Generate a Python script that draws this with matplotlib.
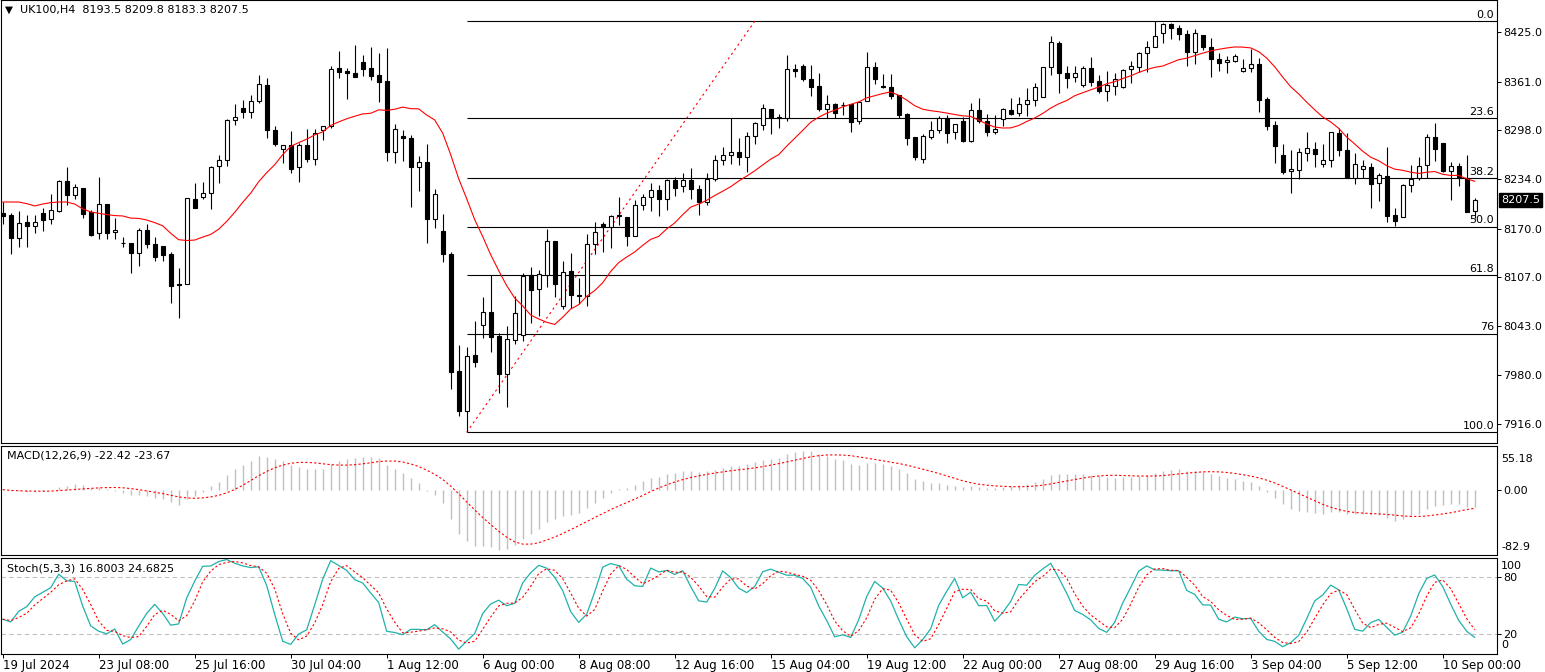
import numpy as np
import pandas as pd
import matplotlib
matplotlib.use('Agg')
import matplotlib.pyplot as plt

# UK100 H4 bars (bar 0 = 19 Jul 2024)
opens = [
    8190.0, 8187.8, 8158.3, 8178.7, 8173.9, 8190.4, 8183.0, 8193.0, 8231.5, 8214.2,
    8222.4, 8191.7, 8164.0, 8201.6, 8165.3, 8151.8, 8151.0, 8138.0, 8168.3, 8150.0,
    8147.1, 8137.1, 8097.5, 8097.7, 8208.5, 8210.7, 8215.9, 8251.8, 8258.8, 8310.7,
    8326.3, 8321.1, 8335.4, 8356.2, 8298.2, 8273.0, 8278.2, 8249.7, 8278.2, 8260.1,
    8298.6, 8303.8, 8378.3, 8374.9, 8371.8, 8386.0, 8378.3, 8369.2, 8361.8, 8270.0,
    8290.0, 8287.3, 8249.7, 8256.2, 8182.1, 8167.0, 8137.1, 7985.2, 7933.7, 8005.5,
    8044.5, 8061.4, 8030.6, 7981.7, 8025.0, 8031.5, 8109.4, 8091.2, 8109.4, 8154.0,
    8069.6, 8115.5, 8084.0, 8082.6, 8149.7, 8175.6, 8172.2, 8186.0, 8184.7, 8160.9,
    8200.3, 8210.7, 8219.8, 8208.1, 8232.8, 8225.0, 8232.8, 8221.1, 8205.1, 8234.1,
    8258.8, 8265.7, 8269.6, 8262.7, 8290.0, 8304.2, 8325.0, 8314.2, 8314.2, 8377.4,
    8380.8, 8364.4, 8354.9, 8325.9, 8331.5, 8330.0, 8331.5, 8309.4, 8335.4, 8379.5,
    8355.0, 8353.6, 8343.6, 8318.9, 8288.6, 8260.9, 8289.5, 8297.7, 8313.3, 8295.1,
    8309.4, 8284.3, 8323.7, 8309.4, 8296.0, 8312.4, 8323.7, 8319.8, 8331.5, 8336.7,
    8340.6, 8379.5, 8410.7, 8371.8, 8367.4, 8356.6, 8378.3, 8361.4, 8349.2, 8355.7,
    8354.4, 8377.0, 8379.5, 8397.7, 8405.5, 8423.7, 8435.4, 8430.2, 8422.4, 8399.9,
    8421.5, 8406.4, 8390.0, 8386.5, 8388.2, 8375.2, 8378.3, 8383.4, 8338.4, 8304.7,
    8265.7, 8244.5, 8245.8, 8267.9, 8273.0, 8253.6, 8259.6, 8294.7, 8271.8, 8236.3,
    8247.9, 8249.7, 8228.9, 8238.4, 8187.8, 8184.7, 8226.3, 8235.4, 8252.7, 8288.6,
    8280.8, 8244.9, 8251.8, 8235.4, 8193.5]
highs = [
    8204.0, 8190.8, 8193.0, 8187.8, 8187.8, 8196.4, 8215.0, 8232.8, 8250.1, 8228.0,
    8222.4, 8194.3, 8237.1, 8201.6, 8184.3, 8159.6, 8151.0, 8170.5, 8176.1, 8158.7,
    8147.1, 8139.3, 8119.0, 8209.4, 8229.3, 8230.6, 8251.8, 8265.3, 8312.4, 8331.5,
    8337.1, 8343.6, 8369.6, 8365.3, 8303.0, 8278.2, 8296.9, 8280.8, 8299.0, 8299.0,
    8303.8, 8381.3, 8400.8, 8378.3, 8408.5, 8395.6, 8406.0, 8398.2, 8404.2, 8306.0,
    8297.7, 8291.7, 8264.8, 8280.0, 8221.5, 8189.0, 8139.3, 8019.0, 8016.4, 8050.1,
    8081.7, 8109.4, 8034.1, 8043.6, 8082.6, 8112.0, 8120.7, 8116.3, 8170.0, 8154.0,
    8128.0, 8138.0, 8105.5, 8162.7, 8178.7, 8179.1, 8187.8, 8211.1, 8184.7, 8207.3,
    8215.0, 8229.3, 8226.7, 8234.1, 8237.1, 8242.3, 8248.4, 8226.7, 8242.3, 8265.3,
    8276.5, 8313.3, 8287.8, 8295.6, 8309.0, 8331.9, 8325.0, 8318.9, 8395.6, 8383.4,
    8383.4, 8382.6, 8372.2, 8343.6, 8333.7, 8334.5, 8331.5, 8334.1, 8399.0, 8386.5,
    8370.9, 8370.9, 8343.6, 8320.7, 8288.6, 8293.0, 8309.9, 8316.3, 8317.6, 8306.4,
    8314.6, 8333.3, 8339.3, 8318.9, 8317.6, 8327.2, 8339.7, 8341.0, 8352.7, 8358.8,
    8379.5, 8420.2, 8413.7, 8381.3, 8381.3, 8381.3, 8392.5, 8369.2, 8374.8, 8372.2,
    8377.0, 8387.8, 8399.0, 8413.7, 8439.3, 8436.7, 8436.7, 8434.5, 8428.0, 8428.9,
    8421.5, 8417.2, 8397.7, 8394.3, 8396.4, 8390.0, 8402.9, 8391.3, 8341.0, 8309.9,
    8280.0, 8272.6, 8274.8, 8295.1, 8282.1, 8279.5, 8295.1, 8301.2, 8294.7, 8268.7,
    8259.2, 8254.9, 8241.9, 8276.5, 8197.3, 8227.6, 8252.7, 8263.5, 8292.5, 8306.8,
    8280.8, 8257.0, 8254.9, 8265.7, 8209.8]
lows = [
    8176.0, 8137.1, 8146.6, 8146.6, 8164.0, 8167.4, 8176.0, 8191.7, 8201.2, 8208.5,
    8184.3, 8160.9, 8156.2, 8156.2, 8156.6, 8146.6, 8112.0, 8122.0, 8144.5, 8128.5,
    8128.5, 8074.0, 8054.4, 8097.7, 8197.3, 8208.5, 8195.1, 8229.8, 8251.8, 8305.1,
    8313.3, 8313.3, 8332.8, 8287.3, 8277.8, 8254.9, 8241.9, 8231.0, 8256.6, 8253.1,
    8284.7, 8300.3, 8366.1, 8338.9, 8367.4, 8368.3, 8363.0, 8335.0, 8257.9, 8254.9,
    8257.9, 8198.6, 8219.4, 8151.0, 8171.3, 8127.2, 7961.8, 7926.7, 7905.5, 7990.0,
    8028.5, 8010.3, 7957.0, 7938.9, 8019.8, 8024.6, 8047.9, 8057.0, 8094.7, 8081.7,
    8065.3, 8066.6, 8072.2, 8070.0, 8136.7, 8139.3, 8144.5, 8174.8, 8147.9, 8160.9,
    8194.3, 8193.4, 8186.9, 8194.3, 8212.4, 8218.1, 8208.5, 8187.8, 8200.8, 8231.9,
    8252.7, 8254.0, 8252.7, 8244.0, 8280.4, 8298.6, 8293.4, 8301.2, 8310.3, 8367.4,
    8362.2, 8342.3, 8323.3, 8314.2, 8314.2, 8317.6, 8296.0, 8306.4, 8335.4, 8358.3,
    8353.1, 8338.4, 8313.3, 8278.7, 8259.2, 8255.3, 8286.0, 8294.7, 8281.7, 8286.9,
    8283.0, 8283.0, 8307.7, 8290.8, 8293.0, 8303.4, 8318.1, 8316.8, 8316.8, 8329.8,
    8340.6, 8369.6, 8346.6, 8353.1, 8361.0, 8354.4, 8355.3, 8346.6, 8336.3, 8344.0,
    8353.1, 8358.8, 8374.0, 8374.0, 8405.5, 8411.6, 8416.8, 8415.0, 8381.7, 8383.9,
    8402.0, 8367.4, 8375.2, 8372.6, 8386.9, 8373.1, 8374.0, 8322.0, 8298.6, 8255.7,
    8241.0, 8215.9, 8234.1, 8257.9, 8250.5, 8250.5, 8250.5, 8264.8, 8235.4, 8228.0,
    8235.4, 8197.3, 8206.4, 8179.1, 8173.9, 8184.7, 8218.1, 8233.2, 8235.4, 8258.3,
    8243.6, 8207.3, 8225.4, 8192.1, 8183.3]
closes = [
    8186.0, 8158.3, 8177.0, 8173.9, 8178.7, 8181.7, 8193.8, 8231.5, 8214.2, 8223.7,
    8189.5, 8161.8, 8201.6, 8164.0, 8168.3, 8151.5, 8138.0, 8168.3, 8149.7, 8133.7,
    8136.3, 8096.0, 8096.8, 8209.4, 8197.3, 8216.3, 8249.7, 8258.8, 8310.7, 8314.6,
    8321.1, 8335.4, 8357.5, 8298.2, 8280.4, 8278.2, 8247.9, 8278.2, 8260.1, 8293.8,
    8303.8, 8377.0, 8374.0, 8371.8, 8367.4, 8377.8, 8368.7, 8361.0, 8270.0, 8299.0,
    8287.3, 8249.7, 8256.2, 8182.1, 8214.6, 8136.7, 7983.5, 7933.7, 8004.6, 7997.3,
    8061.4, 8029.8, 7981.7, 8026.3, 8060.1, 8108.6, 8089.9, 8110.7, 8154.0, 8097.7,
    8114.2, 8083.5, 8082.6, 8150.5, 8165.3, 8172.2, 8186.5, 8187.5, 8160.9, 8200.3,
    8210.7, 8219.8, 8208.1, 8232.8, 8223.3, 8232.8, 8221.1, 8205.1, 8234.1, 8258.8,
    8265.7, 8269.6, 8263.5, 8290.0, 8306.8, 8326.3, 8314.2, 8314.6, 8377.0, 8375.2,
    8364.8, 8354.4, 8325.4, 8331.5, 8320.7, 8330.6, 8309.0, 8334.1, 8379.5, 8364.8,
    8354.4, 8342.7, 8317.6, 8288.2, 8263.5, 8290.0, 8297.7, 8313.3, 8294.7, 8306.4,
    8284.3, 8323.7, 8309.4, 8296.0, 8299.5, 8325.4, 8319.4, 8331.5, 8336.7, 8353.6,
    8379.5, 8412.0, 8371.8, 8366.1, 8371.8, 8378.3, 8361.0, 8349.2, 8356.6, 8364.8,
    8376.1, 8380.8, 8398.2, 8405.5, 8420.2, 8435.4, 8430.2, 8423.3, 8399.9, 8423.7,
    8406.4, 8390.0, 8385.6, 8389.1, 8394.7, 8378.3, 8383.4, 8337.6, 8303.8, 8276.9,
    8243.6, 8247.1, 8269.2, 8274.4, 8267.4, 8259.6, 8295.1, 8272.6, 8235.4, 8253.6,
    8251.8, 8228.5, 8239.7, 8186.9, 8180.4, 8226.7, 8234.5, 8251.8, 8288.6, 8273.0,
    8244.9, 8251.8, 8235.4, 8192.1, 8207.5]

# moving average values for the first bars (history before the window)
ma_start = [8204.6, 8204.6, 8204.6, 8202.5, 8199.5, 8202.0, 8203.8, 8204.6,
            8204.6, 8202.0, 8195.6, 8191.7, 8190.0]
ma_period = 14

price_ticks = [8425, 8361, 8298, 8234, 8170, 8107, 8043, 7980, 7916]
date_labels = ['19 Jul 2024', '23 Jul 08:00', '25 Jul 16:00', '30 Jul 04:00',
               '1 Aug 12:00', '6 Aug 00:00', '8 Aug 08:00', '12 Aug 16:00',
               '15 Aug 04:00', '19 Aug 12:00', '22 Aug 00:00', '27 Aug 08:00',
               '29 Aug 16:00', '3 Sep 04:00', '5 Sep 12:00', '10 Sep 00:00']
label_step = 12

fib_levels = [0.0, 23.6, 38.2, 50.0, 61.8, 76.0, 100.0]
fib_names = ['0.0', '23.6', '38.2', '50.0', '61.8', '76', '100.0']
fib_low_bar = 58
fib_high_bar = 144
fib_line_end = 94

macd_max = 55.18
macd_min = -82.9

header = 'UK100,H4  8193.5 8209.8 8183.3 8207.5'
macd_title = 'MACD(12,26,9) -22.42 -23.67'
stoch_title = 'Stoch(5,3,3) 16.8003 24.6825'

o = np.array(opens)
h = np.array(highs)
l = np.array(lows)
c = np.array(closes)
x = np.arange(len(c))
cs = pd.Series(c)

# indicators
ma = cs.rolling(ma_period).mean().values
ma[:len(ma_start)] = ma_start
macd = (cs.ewm(span=12, adjust=False).mean() - cs.ewm(span=26, adjust=False).mean())
signal = macd.rolling(9, min_periods=1).mean()
ll = pd.Series(l).rolling(5, min_periods=1).min()
hh = pd.Series(h).rolling(5, min_periods=1).max()
k = 100 * (cs - ll).rolling(3, min_periods=1).sum() / (hh - ll).rolling(3, min_periods=1).sum()
d = k.rolling(3, min_periods=1).mean()

W, H = 1545, 672
fig = plt.figure(figsize=(W / 100, H / 100), dpi=100)
fig.patch.set_facecolor('white')
plt.rcParams['font.family'] = 'DejaVu Sans'


def px_axes(top, bottom):
    return fig.add_axes([1 / W, (H - bottom) / H, 1496 / W, (bottom - top) / H])


ax1 = px_axes(0, 443)
ax2 = px_axes(446, 555)
ax3 = px_axes(557.5, 653.5)

xmin = -0.2125
xmax = 186.79
for ax in (ax1, ax2, ax3):
    ax.set_xlim(xmin, xmax)
    for s in ax.spines.values():
        s.set_linewidth(0.8)
        s.set_color('black')
    ax.yaxis.tick_right()
    ax.tick_params(axis='y', length=3, width=0.7, pad=1.5, labelsize=8, colors='black')
    ax.tick_params(axis='x', bottom=False, labelbottom=False)

# main chart
ax1.set_ylim(7891.7, 8466.9)
up = c >= o
ax1.vlines(x, l, h, color='black', lw=0.8, zorder=2)
ax1.bar(x[up], c[up] - o[up], bottom=o[up], width=0.5, color='white',
        edgecolor='black', linewidth=0.8, zorder=3)
ax1.bar(x[~up], o[~up] - c[~up], bottom=c[~up], width=0.5, color='black',
        edgecolor='black', linewidth=0.8, zorder=3)
ax1.plot(x, ma, color='red', lw=0.8, zorder=4)

fib_lo = l[fib_low_bar]
fib_hi = h[fib_high_bar]
for lev, name in zip(fib_levels, fib_names):
    p = fib_hi - (fib_hi - fib_lo) * lev / 100
    ax1.hlines(p, fib_low_bar, xmax, color='black', lw=0.8, zorder=1)
    ax1.annotate(name, xy=(1.0, p), xycoords=('axes fraction', 'data'),
                 xytext=(-2, 1), textcoords='offset points',
                 ha='right', va='bottom', fontsize=8)
ax1.plot([fib_low_bar, fib_line_end], [fib_lo, fib_hi], color='red', lw=0.8,
         ls=(0, (2, 3)), zorder=1)

ax1.set_yticks(price_ticks)
ax1.set_yticklabels(['%.1f' % p for p in price_ticks])
ax1.annotate('%.1f' % c[-1], xy=(1.0, c[-1]), xycoords=('axes fraction', 'data'),
             xytext=(3, 0), textcoords='offset points', ha='left', va='center',
             fontsize=8, color='white',
             bbox=dict(boxstyle='square,pad=0.2', fc='black', ec='black'))

fig.text(5 / W, 1 - 10 / H, '\u25bc', fontsize=7.5, va='center', ha='left')
fig.text(20 / W, 1 - 10 / H, header, fontsize=8, va='center', ha='left')

# MACD
ax2.set_ylim(macd_min, macd_max)
ax2.vlines(x, 0, macd, color='#c0c0c0', lw=1.0)
ax2.plot(x, signal, color='red', lw=0.8, ls=(0, (2, 2)))
ax2.set_yticks([0])
ax2.set_yticklabels(['0.00'])
ax2.annotate('%.2f' % macd_max, xy=(1.0, 1.0), xycoords='axes fraction',
             xytext=(3, -9), textcoords='offset points', ha='left', va='center', fontsize=8)
ax2.annotate('%.1f' % macd_min, xy=(1.0, 0.0), xycoords='axes fraction',
             xytext=(3, 6), textcoords='offset points', ha='left', va='center', fontsize=8)
ax2.text(6 / 1496, 1 - 10 / 109, macd_title, transform=ax2.transAxes,
         fontsize=8, va='center', ha='left')

# Stochastic
ax3.set_ylim(0, 100)
ax3.axhline(80, color='#c0c0c0', lw=0.8, ls=(0, (4, 3)))
ax3.axhline(20, color='#c0c0c0', lw=0.8, ls=(0, (4, 3)))
ax3.plot(x, k, color='#20b2aa', lw=0.9)
ax3.plot(x, d, color='red', lw=0.8, ls=(0, (2, 2)))
ax3.set_yticks([80, 20])
ax3.set_yticklabels(['80', '20'])
ax3.annotate('100', xy=(1.0, 1.0), xycoords='axes fraction',
             xytext=(3, -6), textcoords='offset points', ha='left', va='center', fontsize=8)
ax3.annotate('0', xy=(1.0, 0.0), xycoords='axes fraction',
             xytext=(3, 6), textcoords='offset points', ha='left', va='center', fontsize=8)
ax3.text(6 / 1496, 1 - 11 / 96, stoch_title, transform=ax3.transAxes,
         fontsize=8, va='center', ha='left')

ax3.set_xticks(np.arange(len(date_labels)) * label_step)
ax3.set_xticklabels(date_labels, ha='left')
ax3.tick_params(axis='x', bottom=True, labelbottom=True, length=3, width=0.7,
                pad=1, labelsize=8.5, direction='out')

fig.savefig('out.png', dpi=100, facecolor='white')
